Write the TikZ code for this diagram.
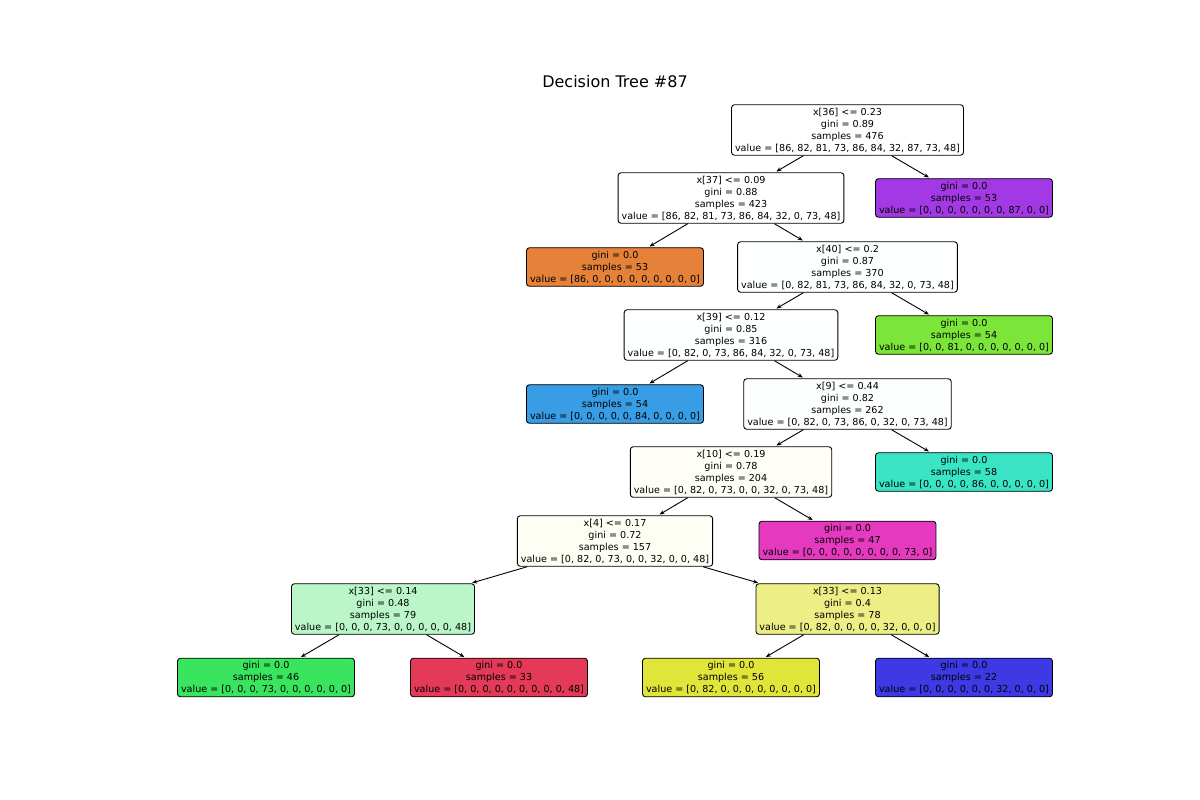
\documentclass[tikz,border=0pt]{standalone}
\usepackage{fontspec}
\setmainfont{DejaVu Sans}
\usetikzlibrary{arrows.meta}
\definecolor{classzero}{HTML}{E58139}
\definecolor{classone}{HTML}{E2E539}
\definecolor{classtwo}{HTML}{7BE539}
\definecolor{classthree}{HTML}{39E55E}
\definecolor{classfour}{HTML}{39E5C5}
\definecolor{classfive}{HTML}{399DE5}
\definecolor{classsix}{HTML}{3C39E5}
\definecolor{classseven}{HTML}{A339E5}
\definecolor{classeight}{HTML}{E539C0}
\definecolor{classnine}{HTML}{E53958}
\definecolor{tintfour}{HTML}{FEFFFF}
\definecolor{tintsix}{HTML}{FCFFFE}
\definecolor{tintseven}{HTML}{FEFEF7}
\definecolor{tinteight}{HTML}{FDFEF4}
\definecolor{tintnine}{HTML}{BBF6C8}
\definecolor{tintten}{HTML}{EDEF86}

\begin{document}
\begin{tikzpicture}[x=1pt,y=-1pt,
  treenode/.style={draw=black, line width=0.9pt, rounded corners=3pt,
    align=center, inner xsep=3.5pt, inner ysep=3pt,
    font=\fontsize{9.6}{12}\selectfont},
  link/.style={line width=0.9pt, -{Stealth[length=5pt,width=4pt]}, shorten >=1.5pt}]

  \useasboundingbox (0,0) rectangle (1200,800);

  \node (title) at (615,82) {\fontsize{16}{19}\selectfont Decision Tree \#87};

  % split nodes
  \node[treenode, fill=white] (s0) at (847.5,130)
    {x[36] <= 0.23\\gini = 0.89\\samples = 476\\value = [86, 82, 81, 73, 86, 84, 32, 87, 73, 48]};
  \node[treenode, fill=white] (s1) at (731,198)
    {x[37] <= 0.09\\gini = 0.88\\samples = 423\\value = [86, 82, 81, 73, 86, 84, 32, 0, 73, 48]};
  \node[treenode, fill=tintfour] (s2) at (847.5,267)
    {x[40] <= 0.2\\gini = 0.87\\samples = 370\\value = [0, 82, 81, 73, 86, 84, 32, 0, 73, 48]};
  \node[treenode, fill=tintfour] (s3) at (731,335)
    {x[39] <= 0.12\\gini = 0.85\\samples = 316\\value = [0, 82, 0, 73, 86, 84, 32, 0, 73, 48]};
  \node[treenode, fill=tintsix] (s4) at (847.5,404)
    {x[9] <= 0.44\\gini = 0.82\\samples = 262\\value = [0, 82, 0, 73, 86, 0, 32, 0, 73, 48]};
  \node[treenode, fill=tintseven] (s5) at (731,472)
    {x[10] <= 0.19\\gini = 0.78\\samples = 204\\value = [0, 82, 0, 73, 0, 0, 32, 0, 73, 48]};
  \node[treenode, fill=tinteight] (s6) at (615,541)
    {x[4] <= 0.17\\gini = 0.72\\samples = 157\\value = [0, 82, 0, 73, 0, 0, 32, 0, 0, 48]};
  \node[treenode, fill=tintnine] (s7) at (383,609)
    {x[33] <= 0.14\\gini = 0.48\\samples = 79\\value = [0, 0, 0, 73, 0, 0, 0, 0, 0, 48]};
  \node[treenode, fill=tintten] (s8) at (847.5,609)
    {x[33] <= 0.13\\gini = 0.4\\samples = 78\\value = [0, 82, 0, 0, 0, 0, 32, 0, 0, 0]};

  % leaves
  \node[treenode, fill=classseven] (l0) at (964,198)
    {gini = 0.0\\samples = 53\\value = [0, 0, 0, 0, 0, 0, 0, 87, 0, 0]};
  \node[treenode, fill=classzero] (l1) at (615,267)
    {gini = 0.0\\samples = 53\\value = [86, 0, 0, 0, 0, 0, 0, 0, 0, 0]};
  \node[treenode, fill=classtwo] (l2) at (964,335)
    {gini = 0.0\\samples = 54\\value = [0, 0, 81, 0, 0, 0, 0, 0, 0, 0]};
  \node[treenode, fill=classfive] (l3) at (615,404)
    {gini = 0.0\\samples = 54\\value = [0, 0, 0, 0, 0, 84, 0, 0, 0, 0]};
  \node[treenode, fill=classfour] (l4) at (964,472)
    {gini = 0.0\\samples = 58\\value = [0, 0, 0, 0, 86, 0, 0, 0, 0, 0]};
  \node[treenode, fill=classeight] (l5) at (847.5,540.5)
    {gini = 0.0\\samples = 47\\value = [0, 0, 0, 0, 0, 0, 0, 0, 73, 0]};
  \node[treenode, fill=classthree] (l6) at (266,677.5)
    {gini = 0.0\\samples = 46\\value = [0, 0, 0, 73, 0, 0, 0, 0, 0, 0]};
  \node[treenode, fill=classnine] (l7) at (499,677.5)
    {gini = 0.0\\samples = 33\\value = [0, 0, 0, 0, 0, 0, 0, 0, 0, 48]};
  \node[treenode, fill=classone] (l8) at (731,677.5)
    {gini = 0.0\\samples = 56\\value = [0, 82, 0, 0, 0, 0, 0, 0, 0, 0]};
  \node[treenode, fill=classsix] (l9) at (964,677.5)
    {gini = 0.0\\samples = 22\\value = [0, 0, 0, 0, 0, 0, 32, 0, 0, 0]};

  \draw[link] (s0) -- (s1);
  \draw[link] (s0) -- (l0);
  \draw[link] (s1) -- (l1);
  \draw[link] (s1) -- (s2);
  \draw[link] (s2) -- (s3);
  \draw[link] (s2) -- (l2);
  \draw[link] (s3) -- (l3);
  \draw[link] (s3) -- (s4);
  \draw[link] (s4) -- (s5);
  \draw[link] (s4) -- (l4);
  \draw[link] (s5) -- (s6);
  \draw[link] (s5) -- (l5);
  \draw[link] (s6) -- (s7);
  \draw[link] (s6) -- (s8);
  \draw[link] (s7) -- (l6);
  \draw[link] (s7) -- (l7);
  \draw[link] (s8) -- (l8);
  \draw[link] (s8) -- (l9);

\end{tikzpicture}
\end{document}
